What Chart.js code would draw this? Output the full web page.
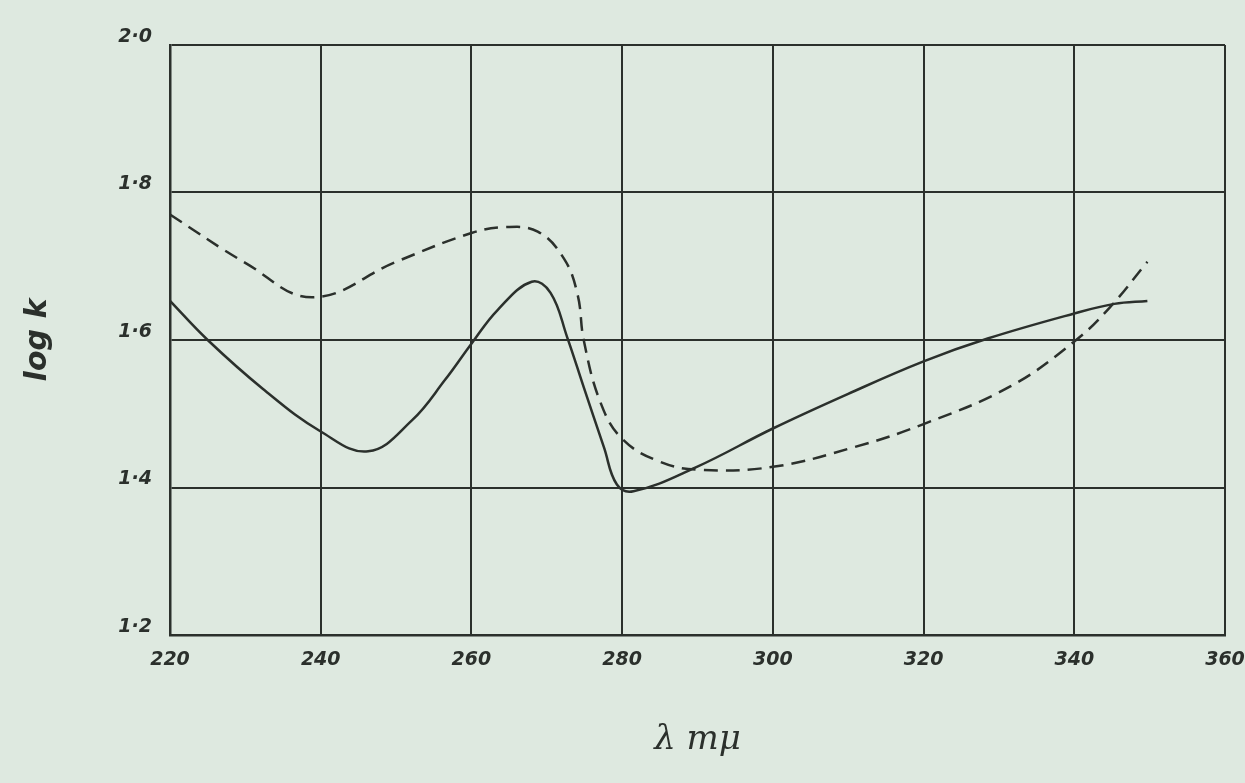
<!DOCTYPE html>
<html>
<head>
<meta charset="utf-8">
<script src="https://cdn.jsdelivr.net/npm/chart.js@4"></script>
<style>
  html, body { margin: 0; padding: 0; background: #dee9e0; }
  #wrap { width: 1245px; height: 783px; }
</style>
</head>
<body>
<div id="wrap"><canvas id="c"></canvas></div>
<script>
// wavelength (m\u03bc) and log k
const solidWl = [220, 225, 232.3, 240, 246.3, 252.1, 256.5, 260, 263.5, 268, 270.5, 272.7, 274.9, 277.6, 279.3, 281.5, 289.7, 300, 310, 320, 328.5, 340, 345.3, 349.7];
const solidLogK = [1.653, 1.6, 1.534, 1.476, 1.449, 1.491, 1.546, 1.595, 1.641, 1.679, 1.664, 1.604, 1.536, 1.454, 1.404, 1.395, 1.427, 1.48, 1.527, 1.571, 1.602, 1.636, 1.649, 1.653];
const dashedWl = [220, 230.1, 238.9, 250, 260, 264.4, 268.8, 272.3, 274.1, 274.9, 277.1, 280, 285, 290.3, 300, 310.9, 320, 331.5, 340, 344.7, 349.7];
const dashedLogK = [1.77, 1.704, 1.658, 1.706, 1.745, 1.753, 1.747, 1.71, 1.661, 1.6, 1.516, 1.466, 1.435, 1.424, 1.428, 1.455, 1.486, 1.537, 1.598, 1.644, 1.706];
const xTicks = [220, 240, 260, 280, 300, 320, 340, 360];
const yTicks = [1.2, 1.4, 1.6, 1.8, 2.0];

const ink = '#2b302c';
const tickFont = { family: 'DejaVu Sans', size: 19, style: 'italic', weight: 'bold' };

const toPts = (xs, ys) => xs.map((x, i) => ({ x: x, y: ys[i] }));

new Chart(document.getElementById('c'), {
  type: 'line',
  data: {
    datasets: [
      {
        data: toPts(solidWl, solidLogK),
        borderColor: ink,
        borderWidth: 2.5,
        pointRadius: 0,
        tension: 0.4,
        fill: false
      },
      {
        data: toPts(dashedWl, dashedLogK),
        borderColor: ink,
        borderWidth: 2.5,
        borderDash: [14, 8],
        pointRadius: 0,
        tension: 0.4,
        fill: false
      }
    ]
  },
  options: {
    responsive: true,
    maintainAspectRatio: false,
    animation: false,
    layout: { padding: { left: 20, right: 20, top: 45, bottom: 20 } },
    plugins: { legend: { display: false }, tooltip: { enabled: false } },
    scales: {
      x: {
        type: 'linear',
        min: 220,
        max: 360,
        afterBuildTicks: s => { s.ticks = xTicks.map(v => ({ value: v })); },
        afterFit: s => { s.height = 128; s.paddingRight = 0; },
        grid: { color: ink, lineWidth: 2, drawTicks: false },
        border: { color: ink, width: 2.5 },
        ticks: { color: ink, font: tickFont, padding: 14, maxRotation: 0 },
        title: {
          display: true,
          text: '\u03bb m\u03bc',
          color: ink,
          font: { family: 'DejaVu Serif', size: 34, style: 'italic' },
          padding: { top: 0, bottom: 2 }
        }
      },
      y: {
        min: 1.2,
        max: 2.0,
        afterBuildTicks: s => { s.ticks = yTicks.map(v => ({ value: v })); },
        afterFit: s => { s.width = 150; },
        grid: { color: ink, lineWidth: 2, drawTicks: false },
        border: { color: ink, width: 2.5 },
        ticks: {
          color: ink,
          font: tickFont,
          padding: 18,
          labelOffset: -8,
          callback: v => v.toFixed(1).replace('.', '\u00b7')
        },
        title: {
          display: true,
          text: 'log k',
          color: ink,
          font: { family: 'DejaVu Sans', size: 30, style: 'italic', weight: 'bold' },
          padding: { top: 0, bottom: 0 }
        }
      }
    }
  }
});
</script>
</body>
</html>
